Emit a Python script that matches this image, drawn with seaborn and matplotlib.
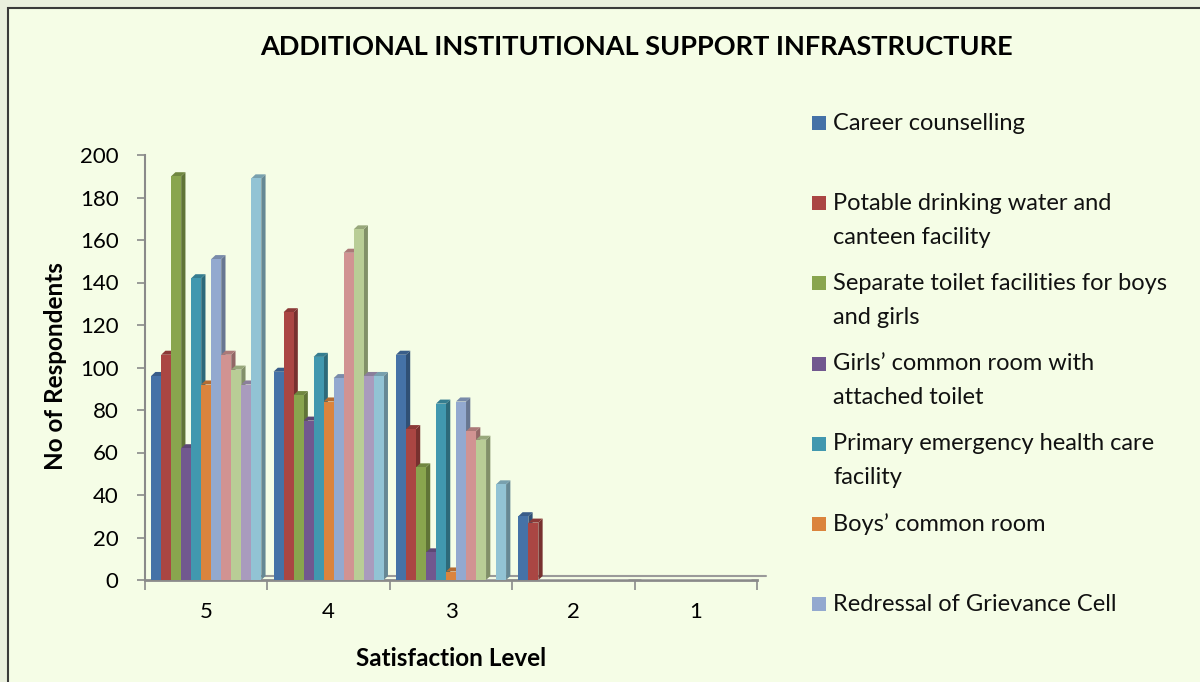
import numpy as np
import pandas as pd
import matplotlib
matplotlib.use("Agg")
import matplotlib.pyplot as plt
import matplotlib.colors as mcolors
from matplotlib.patches import Polygon, Rectangle
import seaborn as sns

# ---- data ----
levels = ["5", "4", "3", "2", "1"]
facilities = [
    "Career counselling",
    "Potable drinking water and canteen facility",
    "Separate toilet facilities for boys and girls",
    "Girls’ common room with attached toilet",
    "Primary emergency health care facility",
    "Boys’ common room",
    "Redressal of Grievance Cell",
    "Facility 8",
    "Facility 9",
    "Facility 10",
    "Facility 11",
]
# legend in the original only shows the first seven entries
legend_labels = [
    "Career counselling",
    "Potable drinking water and\ncanteen facility",
    "Separate toilet facilities for boys\nand girls",
    "Girls’ common room with\nattached toilet",
    "Primary emergency health care\nfacility",
    "Boys’ common room",
    "Redressal of Grievance Cell",
]
counts = {
    "Career counselling":                               [96, 98, 106, 30, 0],
    "Potable drinking water and canteen facility":      [106, 126, 71, 27, 0],
    "Separate toilet facilities for boys and girls":    [190, 87, 53, 0, 0],
    "Girls’ common room with attached toilet":          [62, 75, 13, 0, 0],
    "Primary emergency health care facility":           [142, 105, 83, 0, 0],
    "Boys’ common room":                                [92, 84, 4, 0, 0],
    "Redressal of Grievance Cell":                      [151, 95, 84, 0, 0],
    "Facility 8":                                       [106, 154, 70, 0, 0],
    "Facility 9":                                       [99, 165, 66, 0, 0],
    "Facility 10":                                      [92, 96, 0, 0, 0],
    "Facility 11":                                      [189, 96, 45, 0, 0],
}
colors = ["#4572A7", "#AA4643", "#89A54E", "#71588F", "#4198AF", "#DB843D",
          "#93A9CF", "#D19392", "#B9CD96", "#A99BBD", "#92C3D4"]

rows = []
for f in facilities:
    for lvl, v in zip(levels, counts[f]):
        rows.append({"level": lvl, "facility": f, "count": v})
df = pd.DataFrame(rows)

# ---- figure ----
sns.set_style("white")
plt.rcParams["font.family"] = ["Lato", "DejaVu Sans"]
plt.rcParams["text.color"] = "black"
plt.rcParams["axes.labelcolor"] = "black"
plt.rcParams["xtick.labelcolor"] = "black"
plt.rcParams["ytick.labelcolor"] = "black"

BG = "#F5FDE6"
fig = plt.figure(figsize=(12, 6.82), dpi=100, facecolor="#EAF0DE")
fig.patches.append(Rectangle((8 / 1200, -0.02), 1.0, 1 - 8 / 682 + 0.02,
                             transform=fig.transFigure, facecolor=BG,
                             edgecolor="#3a3a3a", lw=1.5, zorder=-5))

ax = fig.add_axes([145 / 1200, 1 - 580 / 682, 612 / 1200, 425 / 682])
ax.set_facecolor("none")

sns.barplot(data=df, x="level", y="count", hue="facility", order=levels,
            hue_order=facilities, palette=colors, width=0.9, saturation=1,
            legend=False, ax=ax, zorder=3)

# fake 3D depth on each bar
dx, dy = 0.035, 1.9
for p in ax.patches:
    h = p.get_height()
    if h <= 0:
        continue
    x0 = p.get_x()
    x1 = x0 + p.get_width()
    fc = np.array(mcolors.to_rgb(p.get_facecolor()))
    side = Polygon([(x1, 0), (x1 + dx, dy), (x1 + dx, h + dy), (x1, h)],
                   closed=True, facecolor=fc * 0.7, edgecolor="none", zorder=2)
    top = Polygon([(x0, h), (x0 + dx, h + dy), (x1 + dx, h + dy), (x1, h)],
                  closed=True, facecolor=fc * 0.82, edgecolor="none", zorder=2)
    ax.add_patch(side)
    ax.add_patch(top)
    p.set_edgecolor("none")

ax.set_ylim(0, 200)
ax.set_xlim(-0.5, 4.5)
ax.set_yticks(range(0, 201, 20))
ax.tick_params(axis="y", labelsize=16, length=6, width=1.2, color="#8a8a8a",
               direction="out", left=True, pad=13)
ax.set_xticks(range(len(levels)))
ax.set_xticks(np.arange(-0.5, len(levels), 1.0), minor=True)
ax.tick_params(axis="x", which="major", labelsize=16, length=0, pad=16)
ax.tick_params(axis="x", which="minor", length=7, width=1.2, color="#8a8a8a",
               direction="out", bottom=True)

for s in ["top", "right"]:
    ax.spines[s].set_visible(False)
ax.spines["left"].set_color("#8a8a8a")
ax.spines["left"].set_linewidth(1.5)
ax.spines["bottom"].set_color("#8a8a8a")
ax.spines["bottom"].set_linewidth(2)
# floor edge of the 3D look
xl = ax.get_xlim()
ax.plot([xl[0] + dx * 2, xl[1] + dx * 2], [dy, dy], color="#9a9a9a", lw=1.5,
        clip_on=False, zorder=1)

ax.set_xlabel("Satisfaction Level", fontsize=17.5, fontweight="bold")
ax.set_ylabel("No of Respondents", fontsize=17.5, fontweight="bold")
ax.xaxis.set_label_coords(0.5, -0.157)
ax.yaxis.set_label_coords(-0.127, 0.504)

fig.text(636 / 1200, 1 - 47 / 682, "ADDITIONAL INSTITUTIONAL SUPPORT INFRASTRUCTURE",
         ha="center", va="center", fontsize=19.5, fontweight="bold")

# legend (drawn by hand: each slot holds two lines, markers on the first)
y0, step, line = 123, 80.2, 34
for i, lab in enumerate(legend_labels):
    yc = y0 + i * step
    fig.patches.append(Rectangle((812 / 1200, 1 - (yc + 7) / 682), 14 / 1200, 14 / 682,
                                 transform=fig.transFigure, facecolor=colors[i],
                                 edgecolor="none"))
    for j, ln in enumerate(lab.split("\n")):
        fig.text(833 / 1200, 1 - (yc + j * line) / 682, ln, ha="left",
                 va="center", fontsize=17, color="#111111")

fig.savefig("out.png", dpi=100, facecolor=fig.get_facecolor())
